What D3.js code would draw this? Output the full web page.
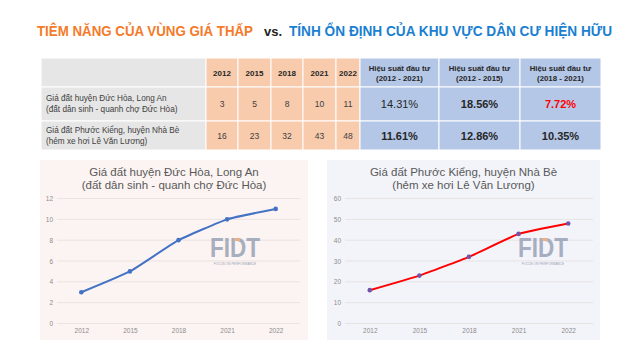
<!DOCTYPE html>
<html><head><meta charset="utf-8">
<script src="https://cdn.jsdelivr.net/npm/d3@7"></script>
<style>html,body{margin:0;padding:0;background:#fff}svg{display:block;font-family:Arial,"Liberation Sans",sans-serif}</style>
</head><body>
<svg id="c" width="640" height="360"></svg>
<script>
const years = ["2012","2015","2018","2021","2022"];
const ducHoa = [3,5,8,10,11];
const phuocKieng = [16,23,32,43,48];
const rowLabels = [["Giá đất huyện  Đức Hòa, Long An","(đất dân sinh - quanh chợ Đức Hòa)"],["Giá đất Phước Kiểng, huyện  Nhà Bè","(hẻm xe hơi Lê Văn Lương)"]];
const perfHeaders = [["Hiệu suất đầu tư","(2012 - 2021)"],["Hiệu suất đầu tư","(2012 - 2015)"],["Hiệu suất đầu tư","(2018 - 2021)"]];
const perfDuc = ["14.31%","18.56%","7.72%"];
const perfPhuoc = ["11.61%","12.86%","10.35%"];
const chart1Title = ["Giá đất huyện Đức Hòa, Long An","(đất dân sinh - quanh  chợ Đức Hòa)"];
const chart2Title = ["Giá đất Phước Kiểng, huyện Nhà Bè","(hẻm xe hơi Lê Văn Lương)"];
const yTicks1 = [0,2,4,6,8,10,12];
const yTicks2 = [0,10,20,30,40,50,60];

const svg = d3.select("#c");

// Title
svg.append("text").attr("x",37).attr("y",36).attr("font-weight","bold").attr("font-size",14)
  .attr("fill","#f47b2a").attr("textLength",216).attr("lengthAdjust","spacingAndGlyphs").text("TIÊM NĂNG CỦA VÙNG GIÁ THẤP");
svg.append("text").attr("x",264).attr("y",36).attr("font-weight","bold").attr("font-size",13)
  .attr("fill","#222").attr("textLength",18).attr("lengthAdjust","spacingAndGlyphs").text("vs.");
svg.append("text").attr("x",289).attr("y",36).attr("font-weight","bold").attr("font-size",14)
  .attr("fill","#1a7fd1").attr("textLength",323).attr("lengthAdjust","spacingAndGlyphs").text("TÍNH ỔN ĐỊNH CỦA KHU VỰC DÂN CƯ HIỆN HỮU");

// Table
const colX = [41,206,238,271,303,336,360,439,520,601];
const rowY = [58,87,121,150];
const g = svg.append("g");
for (let r=0;r<3;r++){
  for (let c=0;c<9;c++){
    const fill = c===0 ? "#e7e6e6" : (c<=5 ? "#f8cbad" : "#b4c7e7");
    g.append("rect").attr("x",colX[c]).attr("y",rowY[r]).attr("width",colX[c+1]-colX[c]).attr("height",rowY[r+1]-rowY[r])
      .attr("fill",fill).attr("stroke","#fff").attr("stroke-width",1);
  }
}
const cx = c => (colX[c]+colX[c+1])/2;
const cy = r => (rowY[r]+rowY[r+1])/2;
years.forEach((y,i)=>{
  g.append("text").attr("x",cx(i+1)).attr("y",cy(0)+3).attr("text-anchor","middle").attr("font-size",8).attr("font-weight","bold").attr("fill","#262626").text(y);
  g.append("text").attr("x",cx(i+1)).attr("y",cy(1)+3).attr("text-anchor","middle").attr("font-size",8.5).attr("fill","#404040").text(ducHoa[i]);
  g.append("text").attr("x",cx(i+1)).attr("y",cy(2)+3).attr("text-anchor","middle").attr("font-size",8.5).attr("fill","#404040").text(phuocKieng[i]);
});
rowLabels.forEach((lines,r)=>{
  lines.forEach((l,k)=>{
    g.append("text").attr("x",46).attr("y",cy(r+1)-3+k*11).attr("font-size",8.2).attr("fill","#404040").text(l);
  });
});
perfHeaders.forEach((lines,i)=>{
  lines.forEach((l,k)=>{
    g.append("text").attr("x",cx(i+6)).attr("y",cy(0)-2+k*10).attr("text-anchor","middle").attr("font-size",7.8).attr("font-weight","bold").attr("fill","#262626").text(l);
  });
});
perfDuc.forEach((v,i)=>{
  g.append("text").attr("x",cx(i+6)).attr("y",cy(1)+4).attr("text-anchor","middle").attr("font-size",11)
    .attr("font-weight", i===0 ? "normal":"bold").attr("fill", i===2 ? "#ff0000" : "#262626").text(v);
});
perfPhuoc.forEach((v,i)=>{
  g.append("text").attr("x",cx(i+6)).attr("y",cy(2)+4).attr("text-anchor","middle").attr("font-size",11)
    .attr("font-weight","bold").attr("fill","#262626").text(v);
});

// Charts
function lineChart(opts){
  const {x0,x1,panelX0,panelX1,bg,title,values,ticks,max,lineColor,markerColor} = opts;
  const cg = svg.append("g");
  cg.append("rect").attr("x",panelX0).attr("y",160).attr("width",panelX1-panelX0).attr("height",180).attr("fill",bg);
  title.forEach((l,k)=>{
    cg.append("text").attr("x",(panelX0+panelX1)/2).attr("y",176+k*13).attr("text-anchor","middle").attr("font-size",11.5).attr("fill","#595959").text(l);
  });
  const x = d3.scalePoint().domain(years).range([x0,x1]).padding(0.5);
  const y = d3.scaleLinear().domain([0,max]).range([323.5,198.5]);
  cg.selectAll(".grid").data(ticks).join("line").attr("x1",x0).attr("x2",x1)
    .attr("y1",d=>y(d)).attr("y2",d=>y(d)).attr("stroke","#e3dedd").attr("stroke-width",0.8);
  const ya = cg.append("g").attr("transform",`translate(${x0-4},0)`).call(d3.axisLeft(y).tickValues(ticks).tickSize(0).tickPadding(0));
  ya.select(".domain").remove();
  ya.selectAll("text").attr("font-size",6.5).attr("fill","#8c8c8c").attr("font-family","Arial,'Liberation Sans',sans-serif");
  const xa = cg.append("g").attr("transform","translate(0,328)").call(d3.axisBottom(x).tickSize(0).tickPadding(0));
  xa.select(".domain").remove();
  xa.selectAll("text").attr("font-size",6.5).attr("fill","#8c8c8c").attr("dy","0.71em").attr("font-family","Arial,'Liberation Sans',sans-serif");
  // watermark
  const wx = opts.wmX;
  cg.append("text").attr("x",wx).attr("y",257).attr("font-size",27).attr("font-weight","bold").attr("fill","#9ea7b9").attr("opacity",0.9)
    .attr("textLength",50).attr("lengthAdjust","spacingAndGlyphs").text("FIDT");
  cg.append("rect").attr("x",wx+24).attr("y",238).attr("width",6).attr("height",3).attr("fill","#f4b183").attr("opacity",0.8);
  cg.append("text").attr("x",wx+25).attr("y",265).attr("text-anchor","middle").attr("font-size",3.2).attr("fill","#9aa3b5").text("FOCUS ON PERFORMANCE");
  const line = d3.line().x((d,i)=>x(years[i])).y(d=>y(d)).curve(d3.curveCardinal.tension(0.6));
  cg.append("path").datum(values).attr("d",line).attr("fill","none").attr("stroke",lineColor).attr("stroke-width",2);
  cg.selectAll(".pt").data(values).join("circle").attr("cx",(d,i)=>x(years[i])).attr("cy",d=>y(d)).attr("r",2.3).attr("fill",markerColor);
}
lineChart({x0:57,x1:300,panelX0:40,panelX1:308,bg:"#fcf4f2",title:chart1Title,values:ducHoa,ticks:yTicks1,max:12,lineColor:"#4472c4",markerColor:"#4472c4",wmX:210});
lineChart({x0:345,x1:593,panelX0:327,panelX1:600,bg:"#f3f4fa",title:chart2Title,values:phuocKieng,ticks:yTicks2,max:60,lineColor:"#ff0000",markerColor:"#7353a8",wmX:518});
</script>
</body></html>
